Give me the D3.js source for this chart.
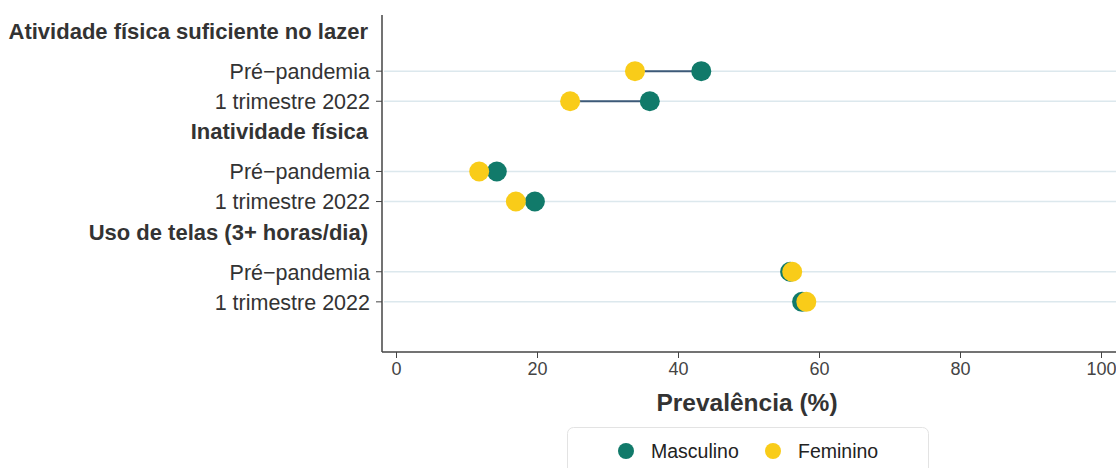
<!DOCTYPE html>
<meta charset="utf-8">
<head>
<style>
  body { margin: 0; background: #fff; }
  text { font-family: "Liberation Sans", Arial, sans-serif; }
  .axis path, .axis line { fill: none; stroke: #444; }
</style>
</head>
<body>
<script src="https://d3js.org/d3.v7.min.js"></script>
<script>

var groups = ["Atividade física suficiente no lazer", "Inatividade física", "Uso de telas (3+ horas/dia)"];
var periods = ["Pré−pandemia", "1 trimestre 2022"];
var masculino = [43.3, 36.0, 14.3, 19.7, 55.9, 57.6];
var feminino = [33.9, 24.7, 11.8, 17.0, 56.2, 58.2];
var xTicks = [0, 20, 40, 60, 80, 100];
var seriesNames = ["Masculino", "Feminino"];
var seriesColors = ["#117a6a", "#f9cc19"];

var width = 1116, height = 468;

var svg = d3.select("body").append("svg")
    .attr("width", width)
    .attr("height", height);

// slot positions: header at 10*g, rows at 10*g+4 and 10*g+7
var x = d3.scaleLinear().domain([0, 100]).range([396, 1101]);
var y = d3.scaleLinear().domain([-1.6, 32]).range([15, 352]);

var rows = [];
groups.forEach(function(g, gi) {
  periods.forEach(function(p, pi) {
    var i = gi * 2 + pi;
    rows.push({group: g, period: p, slot: gi * 10 + (pi == 0 ? 4 : 7), m: masculino[i], f: feminino[i]});
  });
});

// grid lines
svg.selectAll(".grid")
    .data(rows)
  .enter().append("line")
    .attr("x1", 384).attr("x2", width)
    .attr("y1", function(d) { return y(d.slot); })
    .attr("y2", function(d) { return y(d.slot); })
    .style("stroke", "#dce8ed")
    .style("stroke-width", 1.5);

// axes
svg.append("line")
    .attr("x1", 382).attr("x2", 382)
    .attr("y1", y(-1.6)).attr("y2", y(32))
    .style("stroke", "#444").style("stroke-width", 1.5);

var xAxis = svg.append("g")
    .attr("class", "axis")
    .attr("transform", "translate(0," + y(32) + ")")
    .call(d3.axisBottom(x).tickValues(xTicks).tickSize(6).tickPadding(4));
xAxis.select(".domain").attr("d", "M382,0H" + width).style("stroke-width", 1.5);
xAxis.selectAll("text").style("font-size", "18px").style("fill", "#444")
    .style("font-family", "Liberation Sans, Arial, sans-serif");

// y tick marks and labels
svg.selectAll(".ytick")
    .data(rows)
  .enter().append("line")
    .attr("x1", 376).attr("x2", 382)
    .attr("y1", function(d) { return y(d.slot); })
    .attr("y2", function(d) { return y(d.slot); })
    .style("stroke", "#444");

svg.selectAll(".ylab")
    .data(rows)
  .enter().append("text")
    .attr("x", 370)
    .attr("y", function(d) { return y(d.slot); })
    .attr("dy", "0.36em")
    .attr("text-anchor", "end")
    .style("font-size", "21.5px")
    .style("fill", "#333")
    .text(function(d) { return d.period; });

svg.selectAll(".ghead")
    .data(groups)
  .enter().append("text")
    .attr("x", 368)
    .attr("y", function(d, i) { return y(i * 10); })
    .attr("dy", "0.36em")
    .attr("text-anchor", "end")
    .style("font-size", "22px")
    .style("font-weight", "bold")
    .style("fill", "#333")
    .text(function(d) { return d; });

// connectors
svg.selectAll(".seg")
    .data(rows)
  .enter().append("line")
    .attr("x1", function(d) { return x(d.m); })
    .attr("x2", function(d) { return x(d.f); })
    .attr("y1", function(d) { return y(d.slot); })
    .attr("y2", function(d) { return y(d.slot); })
    .style("stroke", "#3d5a78")
    .style("stroke-width", 2);

// dots
svg.selectAll(".dm")
    .data(rows)
  .enter().append("circle")
    .attr("cx", function(d) { return x(d.m); })
    .attr("cy", function(d) { return y(d.slot); })
    .attr("r", 10)
    .style("fill", seriesColors[0]);

svg.selectAll(".df")
    .data(rows)
  .enter().append("circle")
    .attr("cx", function(d) { return x(d.f); })
    .attr("cy", function(d) { return y(d.slot); })
    .attr("r", 10)
    .style("fill", seriesColors[1]);

// x title
svg.append("text")
    .attr("x", 747)
    .attr("y", 411)
    .attr("text-anchor", "middle")
    .style("font-size", "24.5px")
    .style("font-weight", "bold")
    .style("fill", "#333")
    .text("Prevalência (%)");

// legend
svg.append("rect")
    .attr("x", 567.5).attr("y", 427.5)
    .attr("width", 361).attr("height", 60)
    .attr("rx", 6)
    .style("fill", "#fff")
    .style("stroke", "#e3e3e3");

var lx = [626, 773];
var leg = svg.selectAll(".leg")
    .data(seriesNames)
  .enter().append("g")
    .attr("transform", function(d, i) { return "translate(" + lx[i] + ",451)"; });
leg.append("circle").attr("r", 8).style("fill", function(d, i) { return seriesColors[i]; });
leg.append("text")
    .attr("x", 25).attr("dy", "0.36em")
    .style("font-size", "19.5px")
    .style("fill", "#222")
    .text(function(d) { return d; });

</script>
</body>
